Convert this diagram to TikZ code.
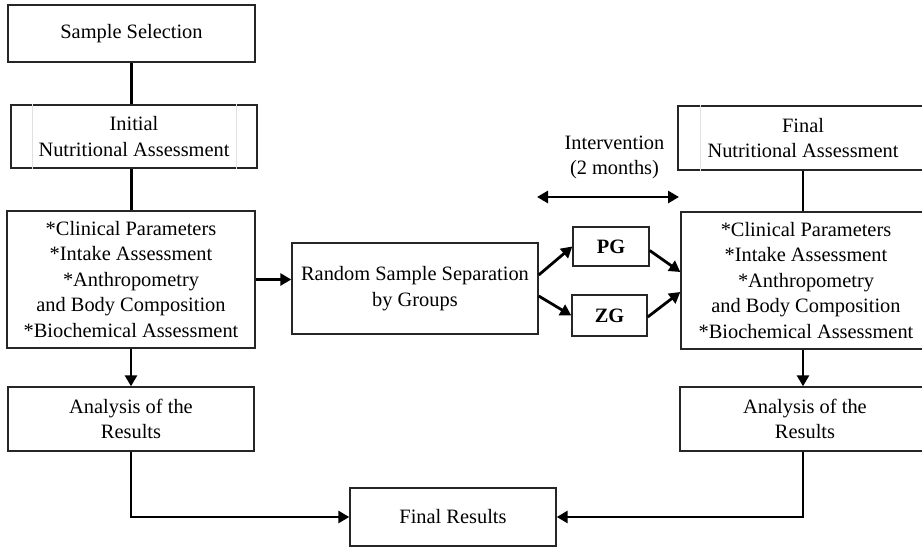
\documentclass[tikz,border=0pt]{standalone}
\usepackage{fontspec}
\setmainfont{Liberation Serif}
\usetikzlibrary{arrows.meta}
\begin{document}
\begin{tikzpicture}[x=1pt,y=-1pt,
  box/.style={draw=black!85,line width=1.4pt,inner sep=0pt,align=center,
    font=\fontsize{20.4}{25.5}\selectfont},
  conn/.style={line width=2.8pt,black},
  arr/.style={conn,-{Triangle[length=11pt,width=12pt]}},
  darr/.style={conn,{Triangle[length=11pt,width=12pt]}-{Triangle[length=11pt,width=12pt]}},
  faint/.style={draw=black!12,line width=0.8pt}]
\useasboundingbox (0,0) rectangle (922,547);
\node[box,minimum width=247pt,minimum height=57pt] (ss) at (131.5,33.5) {Sample Selection};
\node[box,minimum width=246pt,minimum height=63pt] (ina) at (134,136.5) {Initial\\Nutritional Assessment};
\node[box,minimum width=248pt,minimum height=137pt] (lc) at (131,279.5) {*Clinical Parameters\\*Intake Assessment\\*Anthropometry\\and Body Composition\\*Biochemical Assessment};
\node[box,minimum width=246pt,minimum height=64pt] (la) at (131,419) {Analysis of the\\Results};
\node[box,minimum width=246pt,minimum height=91pt] (rnd) at (415,288.5) {Random Sample Separation\\by Groups};
\node[box,minimum width=76pt,minimum height=39pt,font=\fontsize{20.4}{25.5}\selectfont\bfseries] (pg) at (611,246.5) {PG};
\node[box,minimum width=75pt,minimum height=41pt,font=\fontsize{20.4}{25.5}\selectfont\bfseries] (zg) at (609.5,315.5) {ZG};
\node[box,minimum width=250pt,minimum height=64pt] (fna) at (803,138) {Final\\Nutritional Assessment};
\node[box,minimum width=250pt,minimum height=137pt] (rc) at (806,280.5) {*Clinical Parameters\\*Intake Assessment\\*Anthropometry\\and Body Composition\\*Biochemical Assessment};
\node[box,minimum width=250pt,minimum height=64pt] (ra) at (805,419) {Analysis of the\\Results};
\node[box,minimum width=206pt,minimum height=58pt] (fr) at (453,517) {Final Results};
\node[align=center,inner sep=0pt,font=\fontsize{20.4}{25.5}\selectfont] (int) at (614.5,157.5) {Intervention\\(2 months)};
\coordinate (il) at (537,197);
\coordinate (ir) at (679,197);
\coordinate (rx) at (803,0);
% faint inner lines
\draw[faint] ([xshift=22pt]ina.north west) -- ([xshift=22pt]ina.south west);
\draw[faint] ([xshift=-21pt]ina.north east) -- ([xshift=-21pt]ina.south east);
\draw[faint] ([xshift=23pt]fna.north west) -- ([xshift=23pt]fna.south west);
% connectors
\draw[conn] (ss.south) -- (ss.south |- ina.north);
\draw[conn] (ss.south |- ina.south) -- (ss.south |- lc.north);
\draw[arr] (lc.south) -- (la.north);
\draw[arr] (lc.east) -- (lc.east -| rnd.west);
\draw[arr] ([yshift=13.5pt]rnd.east) -- (pg.west);
\draw[arr] ([yshift=-7.5pt]rnd.east) -- (zg.west);
\draw[arr] ([yshift=-4pt]pg.east) -- ([yshift=8.5pt]rc.west);
\draw[arr] ([yshift=-1.5pt]zg.east) -- ([yshift=-11.5pt]rc.west);
\draw[darr] (il) -- (ir);
\draw[conn] (rx |- fna.south) -- (rx |- rc.north);
\draw[arr] (rx |- rc.south) -- (rx |- ra.north);
\draw[arr] (la.south) |- (fr.west);
\draw[arr] (rx |- ra.south) |- (fr.east);
\end{tikzpicture}
\end{document}
